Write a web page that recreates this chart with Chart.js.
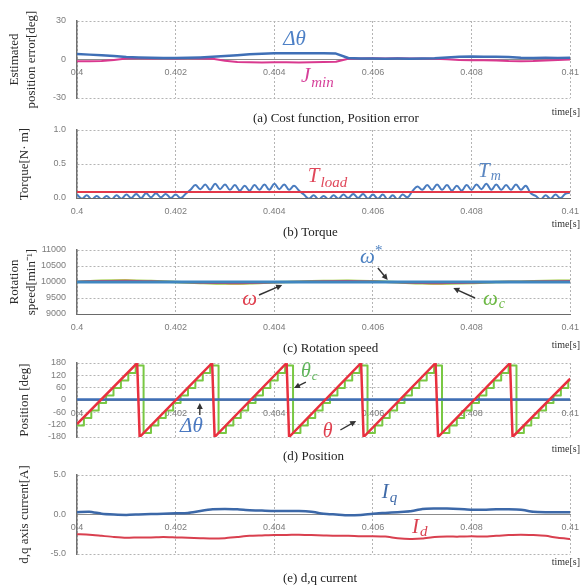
<!DOCTYPE html>
<html><head><meta charset="utf-8">
<script src="https://cdn.jsdelivr.net/npm/chart.js@4"></script>
<style>
html,body{margin:0;padding:0;background:#fff;}
#wrap{position:relative;width:587px;height:585px;overflow:hidden;background:#fff;}
canvas{position:absolute;left:0;top:0;}
.cap{position:absolute;font-family:"Liberation Serif","Times New Roman",serif;font-size:13px;color:#222;white-space:nowrap;line-height:13px;z-index:5;}
.ts{position:absolute;font-family:"Liberation Serif","Times New Roman",serif;font-size:10px;color:#333;right:7px;line-height:10px;z-index:5;}
</style></head>
<body>
<div id="wrap">
<canvas id="ca" width="587" height="585"></canvas>
<canvas id="cb" width="587" height="585"></canvas>
<canvas id="cc" width="587" height="585"></canvas>
<canvas id="cd" width="587" height="585"></canvas>
<canvas id="ce" width="587" height="585"></canvas>
<div class="cap" style="left:253px;top:111px">(a) Cost function, Position error</div>
<div class="ts" style="top:107px">time[s]</div>
<div class="cap" style="left:283px;top:225px">(b) Torque</div>
<div class="ts" style="top:219px">time[s]</div>
<div class="cap" style="left:283px;top:341px">(c) Rotation speed</div>
<div class="ts" style="top:340px">time[s]</div>
<div class="cap" style="left:283px;top:449px">(d) Position</div>
<div class="ts" style="top:444px">time[s]</div>
<div class="cap" style="left:283px;top:571px">(e) d,q current</div>
<div class="ts" style="top:557px">time[s]</div>
</div>
<script>
// ---------- DATA ----------
// (a) cost function / position error
const T_A = [0.4,0.40025,0.4005,0.40075,0.401,0.40125,0.4015,0.40175,0.402,0.40225,0.4025,0.40275,0.403,0.40325,0.4035,0.40375,0.404,0.40425,0.4045,0.40475,0.405,0.40525,0.4055,0.40575,0.406,0.40625,0.4065,0.40675,0.407,0.40725,0.4075,0.40775,0.408,0.40825,0.4085,0.40875,0.409,0.40925,0.4095,0.40975,0.41];
const DTHETA_A = [4.3,3.8,3.3,2.8,2.0,1.6,1.3,1.2,1.2,1.3,1.6,2.1,2.7,3.3,4.0,4.4,4.8,4.9,4.8,4.9,4.8,4.6,1.2,0.8,0.7,0.6,0.7,0.6,0.8,1.0,1.6,2.1,2.3,2.2,2.1,1.9,1.4,1.2,1.3,1.2,1.4];
const JMIN_A = [-1.3,-1.4,-1.2,-0.3,0.8,0.9,0.8,0.9,0.8,0.9,0.8,0.6,-1.0,-2.0,-2.2,-2.3,-2.2,-2.1,-2.3,-2.2,-2.0,-1.8,0.6,0.8,0.9,0.8,0.9,0.8,0.8,0.6,0.2,-0.4,-0.6,-0.5,-0.8,-1.2,-1.3,-1.2,-0.8,-0.3,0.0];
// (b) torque
const T_B = [0.4,0.4001,0.4002,0.4003,0.4004,0.4005,0.4006,0.4007,0.4008,0.4009,0.401,0.4011,0.4012,0.4013,0.4014,0.4015,0.4016,0.4017,0.4018,0.4019,0.402,0.4021,0.4022,0.4023,0.4024,0.4025,0.4026,0.4027,0.4028,0.4029,0.403,0.4031,0.4032,0.4033,0.4034,0.4035,0.4036,0.4037,0.4038,0.4039,0.404,0.4041,0.4042,0.4043,0.4044,0.4045,0.4046,0.4047,0.4048,0.4049,0.405,0.4051,0.4052,0.4053,0.4054,0.4055,0.4056,0.4057,0.4058,0.4059,0.406,0.4061,0.4062,0.4063,0.4064,0.4065,0.4066,0.4067,0.4068,0.4069,0.407,0.4071,0.4072,0.4073,0.4074,0.4075,0.4076,0.4077,0.4078,0.4079,0.408,0.4081,0.4082,0.4083,0.4084,0.4085,0.4086,0.4087,0.4088,0.4089,0.409,0.4091,0.4092,0.4093,0.4094,0.4095,0.4096,0.4097,0.4098,0.4099,0.41];
const TM_B = [0.05,-0.01,0.04,-0.02,0.03,-0.02,0.03,-0.02,0.04,-0.01,0.05,0.0,0.06,0.0,0.07,0.01,0.07,0.01,0.06,0.0,0.05,0.0,0.06,
  0.12,
  0.19,0.13,0.2,0.12,0.21,0.13,0.2,0.12,0.19,0.11,0.18,0.11,0.19,0.12,0.2,0.12,0.21,0.13,0.2,0.12,0.18,0.11,
  0.05,-0.01,0.04,-0.02,0.03,-0.02,0.04,-0.01,0.05,0.0,0.06,0.0,0.06,-0.01,0.05,-0.01,0.05,-0.02,0.04,-0.02,0.05,0.01,
  0.1,
  0.17,0.12,0.19,0.12,0.2,0.12,0.19,0.11,0.18,0.11,0.19,0.12,0.2,0.13,0.21,0.12,0.2,0.12,0.19,0.12,0.2,0.12,0.18,
  0.07,
  0.03,-0.02,0.04,-0.01,0.05,0.0,0.06,0.08];
const TLOAD_T = [0.4,0.41];
const TLOAD_B = [0.09,0.09];
// (c) rotation speed
const T_C = [0.4,0.4005,0.401,0.4015,0.402,0.4025,0.403,0.4035,0.404,0.4045,0.405,0.4055,0.406,0.4065,0.407,0.4075,0.408,0.4085,0.409,0.4095,0.41];
const WREF_C = [10000,10000,10000,10000,10000,10000,10000,10000,10000,10000,10000,10000,10000,10000,10000,10000,10000,10000,10000,10000,10000];
const W_C = [10010,10030,10040,10020,10000,9980,9965,9970,9990,10010,10025,10030,10015,9990,9970,9965,9980,10000,10010,10020,10030];
const WC_C = [10000,10040,10050,10030,10000,9970,9950,9960,9990,10010,10030,10040,10020,9990,9960,9955,9970,10000,10010,10030,10040];
// (d) position
const THETA_T = [0.4,0.40122,0.40127,0.40274,0.40279,0.40425,0.4043,0.40576,0.40581,0.40727,0.40732,0.40878,0.40883,0.41];
const THETA_D = [-117,180,-180,180,-180,180,-180,180,-180,180,-180,180,-180,104];
const THETAC_T = [0.4,0.40014,0.40029,0.40044,0.40059,0.40074,0.40089,0.40104,0.40119,
  0.40135,0.4015,0.40165,0.4018,0.40195,0.4021,0.40225,0.4024,0.40255,0.4027,
  0.40287,0.40302,0.40317,0.40332,0.40347,0.40362,0.40377,0.40392,0.40407,0.40422,
  0.40438,0.40453,0.40468,0.40483,0.40498,0.40513,0.40528,0.40543,0.40558,0.40573,
  0.40589,0.40604,0.40619,0.40634,0.40649,0.40664,0.40679,0.40694,0.40709,0.40724,
  0.4074,0.40755,0.4077,0.40785,0.408,0.40815,0.4083,0.40845,0.4086,0.40875,
  0.40891,0.40906,0.40921,0.40936,0.40951,0.40966,0.40981,0.40996,0.41];
const THETAC_D = [-124,-88,-51,-15,22,58,95,131,168,
  -160,-124,-88,-51,-15,22,58,95,131,168,
  -160,-124,-88,-51,-15,22,58,95,131,168,
  -160,-124,-88,-51,-15,22,58,95,131,168,
  -160,-124,-88,-51,-15,22,58,95,131,168,
  -160,-124,-88,-51,-15,22,58,95,131,168,
  -160,-124,-88,-51,-15,22,58,95,95];
const DTHETA_T = [0.4,0.41];
const DTHETA_D = [2,2];
// (e) d,q current
const T_E = T_A;
const IQ_E = [0.3,0.35,0.1,0.0,-0.05,0.0,0.05,0.1,0.15,0.2,0.45,0.65,0.7,0.65,0.55,0.5,0.45,0.45,0.45,0.35,0.1,0.0,-0.1,-0.05,0.1,0.2,0.3,0.4,0.7,0.75,0.75,0.7,0.6,0.6,0.65,0.65,0.6,0.35,0.3,0.3,0.3];
const ID_E = [-2.5,-2.55,-2.7,-2.85,-2.95,-2.9,-2.9,-2.85,-2.9,-2.95,-3.0,-3.05,-3.0,-2.85,-2.7,-2.65,-2.6,-2.6,-2.55,-2.6,-2.65,-2.7,-2.7,-2.75,-2.75,-2.8,-3.0,-3.1,-3.05,-2.85,-2.8,-2.8,-2.75,-2.8,-2.7,-2.6,-2.55,-2.6,-2.7,-2.95,-3.1];

// tick labels
const X_TICKS = [0.4,0.402,0.404,0.406,0.408,0.41];
const Y_TICKS_A = [-30,0,30];
const Y_TICKS_B = [0,0.5,1];
const Y_TICKS_C = [9000,9500,10000,10500,11000];
const Y_TICKS_D = [-180,-120,-60,0,60,120,180];
const Y_TICKS_E = [-5,0,5];

// ---------- HELPERS ----------
const pts = (ts, vs) => ts.map((t, i) => ({x: t, y: vs[i]}));
const TICKFONT = '"Liberation Sans", Arial, sans-serif';
const SERIF = '"Liberation Serif", "Times New Roman", serif';

function drawNotes(chart, notes) {
  const ctx = chart.ctx, xs = chart.scales.x, ys = chart.scales.y;
  ctx.save();
  notes.forEach(n => {
    if (n.arrow) {
      const x1 = xs.getPixelForValue(n.arrow[0][0]), y1 = ys.getPixelForValue(n.arrow[0][1]);
      const x2 = xs.getPixelForValue(n.arrow[1][0]), y2 = ys.getPixelForValue(n.arrow[1][1]);
      const a = Math.atan2(y2 - y1, x2 - x1), L = 6, W = 3;
      ctx.strokeStyle = '#333'; ctx.fillStyle = '#333'; ctx.lineWidth = 1.4;
      ctx.beginPath(); ctx.moveTo(x1, y1); ctx.lineTo(x2 - L * 0.8 * Math.cos(a), y2 - L * 0.8 * Math.sin(a)); ctx.stroke();
      ctx.beginPath();
      ctx.moveTo(x2, y2);
      ctx.lineTo(x2 - L * Math.cos(a) + W * Math.sin(a), y2 - L * Math.sin(a) - W * Math.cos(a));
      ctx.lineTo(x2 - L * Math.cos(a) - W * Math.sin(a), y2 - L * Math.sin(a) + W * Math.cos(a));
      ctx.closePath(); ctx.fill();
    }
    if (n.text) {
      const x = xs.getPixelForValue(n.x), y = ys.getPixelForValue(n.y);
      ctx.textAlign = 'left'; ctx.textBaseline = 'alphabetic'; ctx.fillStyle = n.color;
      ctx.font = 'italic ' + n.size + 'px ' + SERIF;
      ctx.fillText(n.text, x, y);
      const w = ctx.measureText(n.text).width;
      if (n.sub) { ctx.font = 'italic ' + n.subSize + 'px ' + SERIF; ctx.fillText(n.sub, x + w + 1, y + n.subDy); }
      if (n.sup) { ctx.font = n.supSize + 'px ' + SERIF; ctx.fillText(n.sup, x + w, y - n.supDy); }
    }
  });
  ctx.restore();
}

function makePanel(id, P) {
  return new Chart(document.getElementById(id), {
    type: 'line',
    data: {datasets: P.datasets.map(d => Object.assign({pointRadius: 0, fill: false, tension: 0, borderJoinStyle: 'round'}, d))},
    options: {
      responsive: false, animation: false, devicePixelRatio: 1,
      layout: {padding: {left: 0, right: 8, top: P.top, bottom: 585 - P.bottom}},
      plugins: {legend: {display: false}, tooltip: {enabled: false}, title: {display: false}},
      scales: {
        x: {
          type: 'linear', min: 0.4, max: 0.41, position: {y: P.xAt},
          afterBuildTicks: s => { s.ticks = X_TICKS.map(v => ({value: v})); },
          ticks: {callback: v => String(+(+v).toFixed(3)), font: {family: TICKFONT, size: 9}, color: '#7c7c7c', padding: 8, maxRotation: 0, minRotation: 0, autoSkip: false},
          grid: {color: '#b4b4b4', lineWidth: 1, drawTicks: false},
          border: {display: true, color: P.xBorder || '#8c8c8c', width: 1, dash: [2, 2]}
        },
        y: {
          type: 'linear', position: 'left', min: P.ymin, max: P.ymax,
          afterBuildTicks: s => { s.ticks = P.yTicks.map(v => ({value: v})); },
          ticks: {callback: P.yfmt, font: {family: TICKFONT, size: 9}, color: '#7c7c7c', padding: 11, autoSkip: false},
          grid: {color: '#b4b4b4', lineWidth: 1, drawTicks: false},
          border: {display: true, color: '#707070', width: 1.5, dash: [2, 2]},
          title: {display: true, text: P.title, color: '#2a2a2a', font: {family: SERIF, size: 13, lineHeight: 1.3}, padding: {top: P.titlePad, bottom: 0}},
          afterFit: s => { s.width = 77; }
        }
      }
    },
    plugins: [{id: 'notes' + id, afterDatasetsDraw: c => drawNotes(c, P.notes)}]
  });
}

const BLUE = '#3f6fb6', MAG = '#d9398f', RED = '#e3394a', GREEN = '#79c843';

makePanel('ca', {
  top: 21, bottom: 98, ymin: -30, ymax: 30, yTicks: Y_TICKS_A, yfmt: v => String(v), xAt: 0,
  title: ['Estimated', 'position error[deg]'], titlePad: 6.5,
  datasets: [
    {data: pts(T_A, DTHETA_A), borderColor: BLUE, borderWidth: 2.5},
    {data: pts(T_A, JMIN_A), borderColor: MAG, borderWidth: 2}
  ],
  notes: [
    {text: 'Δθ', x: 0.40418, y: 11.3, color: '#4d80c6', size: 21},
    {text: 'J', sub: 'min', x: 0.40454, y: -17.5, color: '#d6409a', size: 21, subSize: 15, subDy: 5}
  ]
});
makePanel('cb', {
  top: 130, bottom: 198, ymin: 0, ymax: 1, yTicks: Y_TICKS_B, yfmt: v => (+v).toFixed(1), xAt: 0, xBorder: '#6a6a6a',
  title: 'Torque[N· m]', titlePad: 16.5,
  datasets: [
    {data: pts(TLOAD_T, TLOAD_B), borderColor: RED, borderWidth: 2},
    {data: pts(T_B, TM_B), borderColor: '#4a7cbf', borderWidth: 2, tension: 0.4}
  ],
  notes: [
    {text: 'T', sub: 'load', x: 0.40468, y: 0.235, color: '#e0475a', size: 21, subSize: 15, subDy: 5},
    {text: 'T', sub: 'm', x: 0.40813, y: 0.31, color: '#5b87c2', size: 21, subSize: 14, subDy: 3}
  ]
});
makePanel('cc', {
  top: 250, bottom: 314, ymin: 9000, ymax: 11000, yTicks: Y_TICKS_C, yfmt: v => String(v), xAt: 9000, xBorder: '#6a6a6a',
  title: ['Rotation', 'speed[min⁻¹]'], titlePad: 6.5,
  datasets: [
    {data: pts(T_C, WREF_C), borderColor: '#3f86c0', borderWidth: 3},
    {data: pts(T_C, W_C), borderColor: RED, borderWidth: 2, tension: 0.3},
    {data: pts(T_C, WC_C), borderColor: '#9cc83a', borderWidth: 2.5, tension: 0.3}
  ],
  notes: [
    {text: 'ω', sup: '*', x: 0.40574, y: 10594, color: '#4a7fc0', size: 21, supSize: 15, supDy: 8},
    {arrow: [[0.4061, 10437], [0.4063, 10062]]},
    {text: 'ω', x: 0.40335, y: 9281, color: '#e0404f', size: 21},
    {arrow: [[0.40369, 9594], [0.40416, 9906]]},
    {text: 'ω', sub: 'c', x: 0.40823, y: 9281, color: '#6cb844', size: 21, subSize: 14, subDy: 3},
    {arrow: [[0.40807, 9500], [0.40763, 9812]]}
  ]
});
makePanel('cd', {
  top: 363, bottom: 437, ymin: -180, ymax: 180, yTicks: Y_TICKS_D, yfmt: v => String(v), xAt: 0,
  title: 'Position [deg]', titlePad: 16.5,
  datasets: [
    {data: pts(THETA_T, THETA_D), borderColor: '#e8303f', borderWidth: 2.5},
    {data: pts(DTHETA_T, DTHETA_D), borderColor: BLUE, borderWidth: 2.5},
    {data: pts(THETAC_T, THETAC_D), borderColor: GREEN, borderWidth: 2, stepped: true}
  ],
  notes: [
    {text: 'θ', sub: 'c', x: 0.40454, y: 112, color: '#5fb55a', size: 20, subSize: 13, subDy: 3},
    {arrow: [[0.40464, 87], [0.4044, 58]]},
    {text: 'θ', x: 0.40498, y: -178, color: '#e0404f', size: 20},
    {arrow: [[0.40534, -146], [0.40566, -102]]},
    {text: 'Δθ', x: 0.40209, y: -156, color: '#4a78c0', size: 21},
    {arrow: [[0.40249, -73], [0.40249, -15]]}
  ]
});
makePanel('ce', {
  top: 475, bottom: 554, ymin: -5, ymax: 5, yTicks: Y_TICKS_E, yfmt: v => (+v).toFixed(1), xAt: 0,
  title: 'd,q axis current[A]', titlePad: 16.5,
  datasets: [
    {data: pts(T_E, IQ_E), borderColor: '#3c68a8', borderWidth: 2.5, tension: 0.2},
    {data: pts(T_E, ID_E), borderColor: '#d9404f', borderWidth: 2, tension: 0.2}
  ],
  notes: [
    {text: 'I', sub: 'q', x: 0.40618, y: 2.09, color: '#3f6aa8', size: 21, subSize: 15, subDy: 4},
    {text: 'I', sub: 'd', x: 0.40679, y: -2.34, color: '#d9404f', size: 21, subSize: 15, subDy: 3}
  ]
});
</script>
</body></html>
